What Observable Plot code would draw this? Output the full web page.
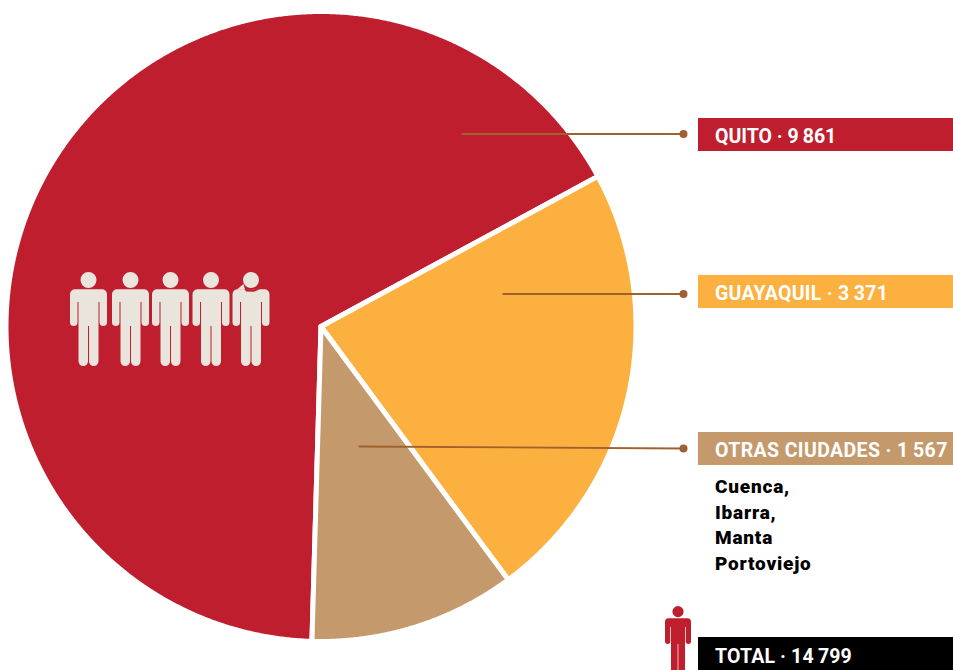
<!DOCTYPE html>
<html lang="es">
<head>
<meta charset="utf-8">
<style>
html,body{margin:0;padding:0;background:#fff}svg{display:block}
.track-0 text{letter-spacing:0}
.track-1 text{letter-spacing:.28px}
.track-2 text{letter-spacing:.39px}
.track-total text{letter-spacing:.15px}
.track-towns text{letter-spacing:.8px}
</style>
<script src="https://cdn.jsdelivr.net/npm/d3@7"></script>
<script src="https://cdn.jsdelivr.net/npm/@observablehq/plot@0.6"></script>
</head>
<body>
<div id="chart"></div>
<script>
const cities = ["QUITO", "GUAYAQUIL", "OTRAS CIUDADES"];
const counts = [9861, 3371, 1567];
const countLabels = ["9\u2009861", "3\u2009371", "1\u2009567"];
const colours = ["#BE1E2D", "#FBB040", "#C49A6C"];
const otherCities = ["Cuenca,", "Ibarra,", "Manta", "Portoviejo"];
const totalLabel = "TOTAL · 14\u2009799";

const W = 953, H = 670;
const cx = 320.5, cy = 326, R = 315, firstAngle = 181.65 * Math.PI / 180;
const barLeft = 698, textLeft = 714.5, barH = 33;
const barTops = [118, 275, 432];
const leaderStarts = [[461, 133.5], [502, 293.5], [358, 446]];
const leaderEnds = [[683, 133.5], [683, 293.5], [683, 448]];
const crowdX = [88, 130, 170, 210.5, 250.5], crowdY = 318.5;
const cityLineY = [486.5, 512.5, 537.5, 563.5];

// Slices: Quito starts at the bottom and sweeps clockwise
const total = d3.sum(counts);
const shares = d3.cumsum(counts).map(v => v / total);
const slicePts = cities.flatMap((c, i) => {
  const a0 = firstAngle + 2 * Math.PI * (i ? shares[i - 1] : 0);
  const a1 = firstAngle + 2 * Math.PI * shares[i];
  const n = Math.ceil((a1 - a0) / 0.005);
  const rim = d3.range(n + 1).map(k => {
    const a = a0 + (a1 - a0) * k / n;
    return {city: c, x: cx + R * Math.sin(a), y: cy - R * Math.cos(a)};
  });
  return [{city: c, x: cx, y: cy}, ...rim, {city: c, x: cx, y: cy}];
});

// Person pictogram, 37 x 94 at r = 47
const person = {
  draw(p, size) {
    const s = Math.sqrt(size / Math.PI) / 47;
    const X = v => v * s, Y = v => v * s;
    p.moveTo(X(8), Y(-39));
    p.arc(0, Y(-39), 8 * s, 0, 2 * Math.PI);
    p.closePath();
    p.moveTo(X(-13.5), Y(-29.7));
    p.lineTo(X(13.5), Y(-29.7));
    p.arc(X(13.5), Y(-24.7), 5 * s, -Math.PI / 2, 0);
    p.lineTo(X(18.5), Y(3.3));
    p.arc(X(14.75), Y(3.3), 3.75 * s, 0, Math.PI);
    p.lineTo(X(11), Y(-17));
    p.lineTo(X(10), Y(-17));
    p.lineTo(X(10), Y(42.3));
    p.arc(X(5.25), Y(42.3), 4.75 * s, 0, Math.PI);
    p.lineTo(X(0.5), Y(7));
    p.lineTo(X(-0.5), Y(7));
    p.lineTo(X(-0.5), Y(42.3));
    p.arc(X(-5.25), Y(42.3), 4.75 * s, 0, Math.PI);
    p.lineTo(X(-10), Y(-17));
    p.lineTo(X(-11), Y(-17));
    p.lineTo(X(-11), Y(3.3));
    p.arc(X(-14.75), Y(3.3), 3.75 * s, 0, Math.PI);
    p.lineTo(X(-18.5), Y(-24.7));
    p.arc(X(-13.5), Y(-24.7), 5 * s, Math.PI, 1.5 * Math.PI);
    p.closePath();
  }
};
// The last figure's shoulder: a small spike and a sliver cut beneath the head
const spike = {draw(p) { p.moveTo(-14, -29.4); p.lineTo(-7.5, -35); p.lineTo(-6, -29.4); p.closePath(); }};
const sliver = {draw(p) { p.moveTo(-6.5, -30); p.lineTo(-5, -27.5); p.lineTo(3, -27.3); p.lineTo(9, -29.8); p.closePath(); }};

const font = "Roboto, sans-serif";
const rows = cities.map((c, i) => ({
  city: c, label: `${c} · ${countLabels[i]}`, top: barTops[i],
  x1: leaderStarts[i][0], y1: leaderStarts[i][1], x2: leaderEnds[i][0], y2: leaderEnds[i][1]
}));

const chart = Plot.plot({
  width: W, height: H, margin: 0,
  x: {domain: [0, W], range: [0, W], axis: null},
  y: {domain: [0, H], range: [0, H], axis: null},
  color: {domain: cities, range: colours},
  style: {background: "#fff"},
  marks: [
    Plot.line(slicePts, {x: "x", y: "y", z: "city", fill: "city", stroke: "#fff", strokeWidth: 5, strokeLinejoin: "miter", strokeMiterlimit: 10, curve: "linear"}),
    Plot.dot(crowdX, {x: d => d, y: () => crowdY, r: 47, symbol: person, fill: "#E9E4DC", stroke: "none"}),
    Plot.dot(crowdX.slice(-1), {x: d => d, y: () => crowdY, r: 47, symbol: spike, fill: "#E9E4DC", stroke: "none"}),
    Plot.dot(crowdX.slice(-1), {x: d => d, y: () => crowdY, r: 47, symbol: sliver, fill: "#BE1E2D", stroke: "none"}),
    Plot.link(rows, {x1: "x1", y1: "y1", x2: "x2", y2: "y2", stroke: "#A0602F", strokeWidth: 1.8}),
    Plot.dot(rows, {x: "x2", y: "y2", r: 4, fill: "#A0602F", stroke: "none"}),
    Plot.rect(rows, {x1: barLeft, x2: W, y1: "top", y2: d => d.top + barH, fill: "city"}),
    rows.map((row, i) => Plot.text([row], {x: textLeft, y: d => d.top + 18.5, text: "label", textAnchor: "start", fill: "#fff", fontSize: 19.5, fontWeight: 700, fontFamily: font, className: `track-${i}`})),
    Plot.text(otherCities, {x: textLeft, y: (d, i) => cityLineY[i], text: d => d, textAnchor: "start", fill: "#000", fontSize: 19, fontWeight: 900, fontFamily: font, className: "track-towns"}),
    Plot.dot([0], {x: () => 677.5, y: () => 638.5, r: 33, symbol: person, fill: "#BE1E2D", stroke: "none"}),
    Plot.rect([0], {x1: barLeft, x2: W, y1: 637, y2: H, fill: "#000"}),
    Plot.text([totalLabel], {x: textLeft, y: 656, text: d => d, textAnchor: "start", fill: "#fff", fontSize: 19.5, fontWeight: 700, fontFamily: font, className: "track-total"})
  ]
});
document.getElementById("chart").append(chart);
</script>
</body>
</html>
